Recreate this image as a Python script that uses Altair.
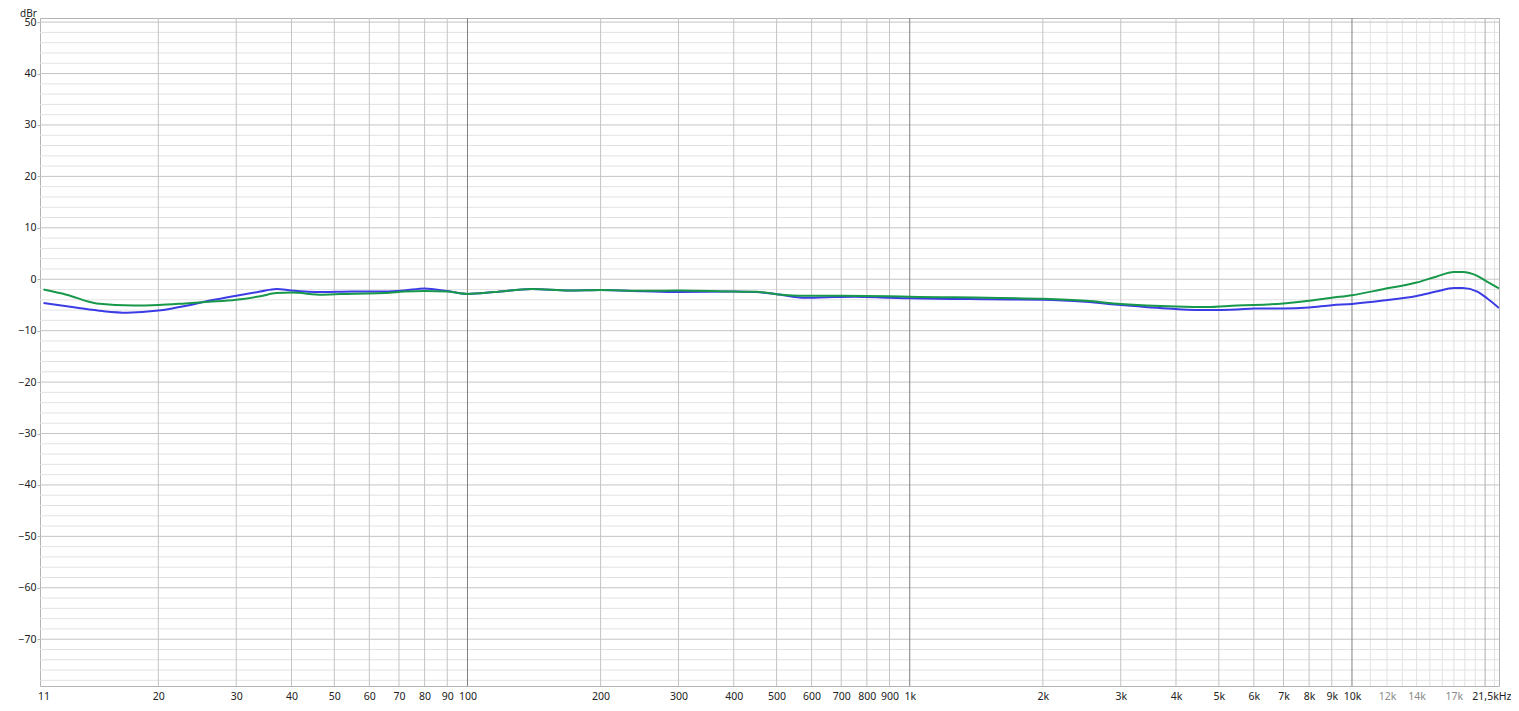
import altair as alt
import pandas as pd

# ---- data ----
freq_blue = [11, 13, 15, 17, 20, 23, 26, 30, 34, 37, 40, 47, 55, 65, 72, 80, 90, 100, 115, 140, 170,
             200, 250, 300, 400, 450, 500, 580, 650, 750, 900, 1000, 1500, 2000, 2500, 3000, 4000,
             4700, 5500, 6000, 7000, 8000, 9000, 10000, 11750, 14000, 15500, 17000, 17800, 19200,
             20200, 21500]
db_blue = [-4.6, -5.5, -6.2, -6.5, -6.1, -5.2, -4.2, -3.2, -2.4, -1.9, -2.2, -2.5, -2.4, -2.4, -2.2,
           -1.8, -2.3, -2.85, -2.5, -1.9, -2.2, -2.1, -2.35, -2.5, -2.4, -2.5, -2.9, -3.6, -3.5, -3.4,
           -3.6, -3.7, -3.9, -4.0, -4.4, -5.0, -5.8, -6.0, -5.9, -5.7, -5.7, -5.5, -5.05, -4.8, -4.15,
           -3.25, -2.4, -1.7, -1.7, -2.4, -3.7, -5.6]

freq_green = [11, 12.4, 14.5, 17.6, 20, 23, 26, 30, 34, 37, 40, 47, 55, 65, 72, 80, 90, 100, 115, 140,
              170, 200, 250, 300, 400, 450, 500, 580, 700, 900, 1000, 1500, 2000, 2500, 3000, 4000,
              4700, 5500, 6000, 7000, 8000, 9000, 10000, 11750, 14000, 15500, 17000, 17800, 19200,
              20200, 21500]
db_green = [-2.0, -3.0, -4.7, -5.1, -5.0, -4.7, -4.4, -4.0, -3.3, -2.7, -2.6, -3.0, -2.8, -2.7, -2.4,
            -2.3, -2.4, -2.85, -2.5, -1.9, -2.2, -2.1, -2.25, -2.2, -2.4, -2.45, -2.9, -3.2, -3.2, -3.3,
            -3.4, -3.6, -3.8, -4.2, -4.8, -5.3, -5.4, -5.1, -5.0, -4.7, -4.2, -3.6, -3.1, -1.95, -0.65,
            0.5, 1.4, 1.4, 0.65, -0.45, -1.8]

series_names = ["Left", "Right"]
series_colors = ["#3c3ce6", "#18984a"]

x_tick_values = [11, 20, 30, 40, 50, 60, 70, 80, 90, 100, 200, 300, 400, 500, 600, 700, 800, 900,
                 1000, 2000, 3000, 4000, 5000, 6000, 7000, 8000, 9000, 10000, 12000, 14000, 17000, 21500]
x_gray_labels = [12000, 14000, 17000]
x_grid_main = [20, 30, 40, 50, 60, 70, 80, 90, 200, 300, 400, 500, 600, 700, 800, 900,
               2000, 3000, 4000, 5000, 6000, 7000, 8000, 9000]
x_grid_decade = [100, 1000, 10000]
x_grid_light = [11000, 12000, 13000, 14000, 15000, 16000, 17000, 18000, 19000, 21000]
x_grid_mid = [20000]

y_tick_values = [50, 40, 30, 20, 10, 0, -10, -20, -30, -40, -50, -60, -70]
y_grid_minor = [v for v in range(-78, 51, 2) if v % 10 != 0]

X_DOMAIN = [10.8, 21500]
Y_DOMAIN = [-79.1, 50.8]
FONT = "Noto Sans"

# ---- tables ----
lines_df = pd.concat([
    pd.DataFrame({"f": freq_blue, "db": db_blue, "s": series_names[0]}),
    pd.DataFrame({"f": freq_green, "db": db_green, "s": series_names[1]}),
])

xs = alt.Scale(type="log", domain=X_DOMAIN, nice=False)
ys = alt.Scale(domain=Y_DOMAIN, nice=False, zero=False)

label_expr = ("datum.value == 21500 ? '21,5kHz' : (datum.value >= 1000 ? "
              "(datum.value / 1000) + 'k' : '' + datum.value)")
gray_list = "[" + ",".join(str(v) for v in x_gray_labels) + "]"

x_axis = alt.Axis(
    values=x_tick_values, labelExpr=label_expr, title=None, grid=False, ticks=False,
    domain=False, labelOverlap=False, labelFlush=False, labelPadding=5,
    labelFontSize=10.5, labelFont=FONT,
    labelAlign=alt.ExprRef(expr="datum.value == 21500 ? 'right' : 'center'"),
    labelOffset=alt.ExprRef(expr="datum.value == 21500 ? 12 : 0"),
    labelColor=alt.ExprRef(expr=f"indexof({gray_list}, datum.value) >= 0 ? '#8a8a8a' : '#222222'"))

y_axis = alt.Axis(
    values=y_tick_values, title="dBr", titleAngle=0, titleX=-12, titleY=-1.5,
    titleAlign="center", titleBaseline="alphabetic", titleFontWeight="normal",
    titleFontSize=10, titleFont=FONT, titleColor="#222222",
    grid=False, domain=False, tickSize=3, tickColor="#b4b4b4", labelPadding=1,
    labelFontSize=10.5, labelFont=FONT, labelColor="#222222")


def vrules(vals, color, width=1):
    return alt.Chart(pd.DataFrame({"f": vals})).mark_rule(color=color, strokeWidth=width).encode(
        x=alt.X("f:Q", scale=xs, axis=x_axis))


def hrules(vals, color, width=1):
    return alt.Chart(pd.DataFrame({"db": vals})).mark_rule(color=color, strokeWidth=width).encode(
        y=alt.Y("db:Q", scale=ys, axis=y_axis))


grid = alt.layer(
    hrules(y_grid_minor, "#e2e2e2"),
    vrules(x_grid_light, "#e2e2e2"),
    hrules(y_tick_values, "#c4c4c4"),
    vrules(x_grid_main, "#c4c4c4"),
    vrules(x_grid_mid, "#b0b0b0"),
    vrules(x_grid_decade, "#808080"),
)

lines = alt.Chart(lines_df).mark_line(strokeWidth=2, interpolate="monotone", clip=True).encode(
    x=alt.X("f:Q", scale=xs, axis=x_axis),
    y=alt.Y("db:Q", scale=ys, axis=y_axis),
    color=alt.Color("s:N", scale=alt.Scale(domain=series_names, range=series_colors), legend=None),
    detail="s:N",
)

chart = alt.layer(grid, lines).properties(
    width=1459, height=668,
    padding={"left": 32, "top": 10, "right": 12, "bottom": 17},
    autosize=alt.AutoSizeParams(type="none"),
    background="white",
).configure_view(stroke="#b4b4b4", strokeWidth=1)

chart.save("out.html", embed_options={"renderer": "svg", "actions": False})
